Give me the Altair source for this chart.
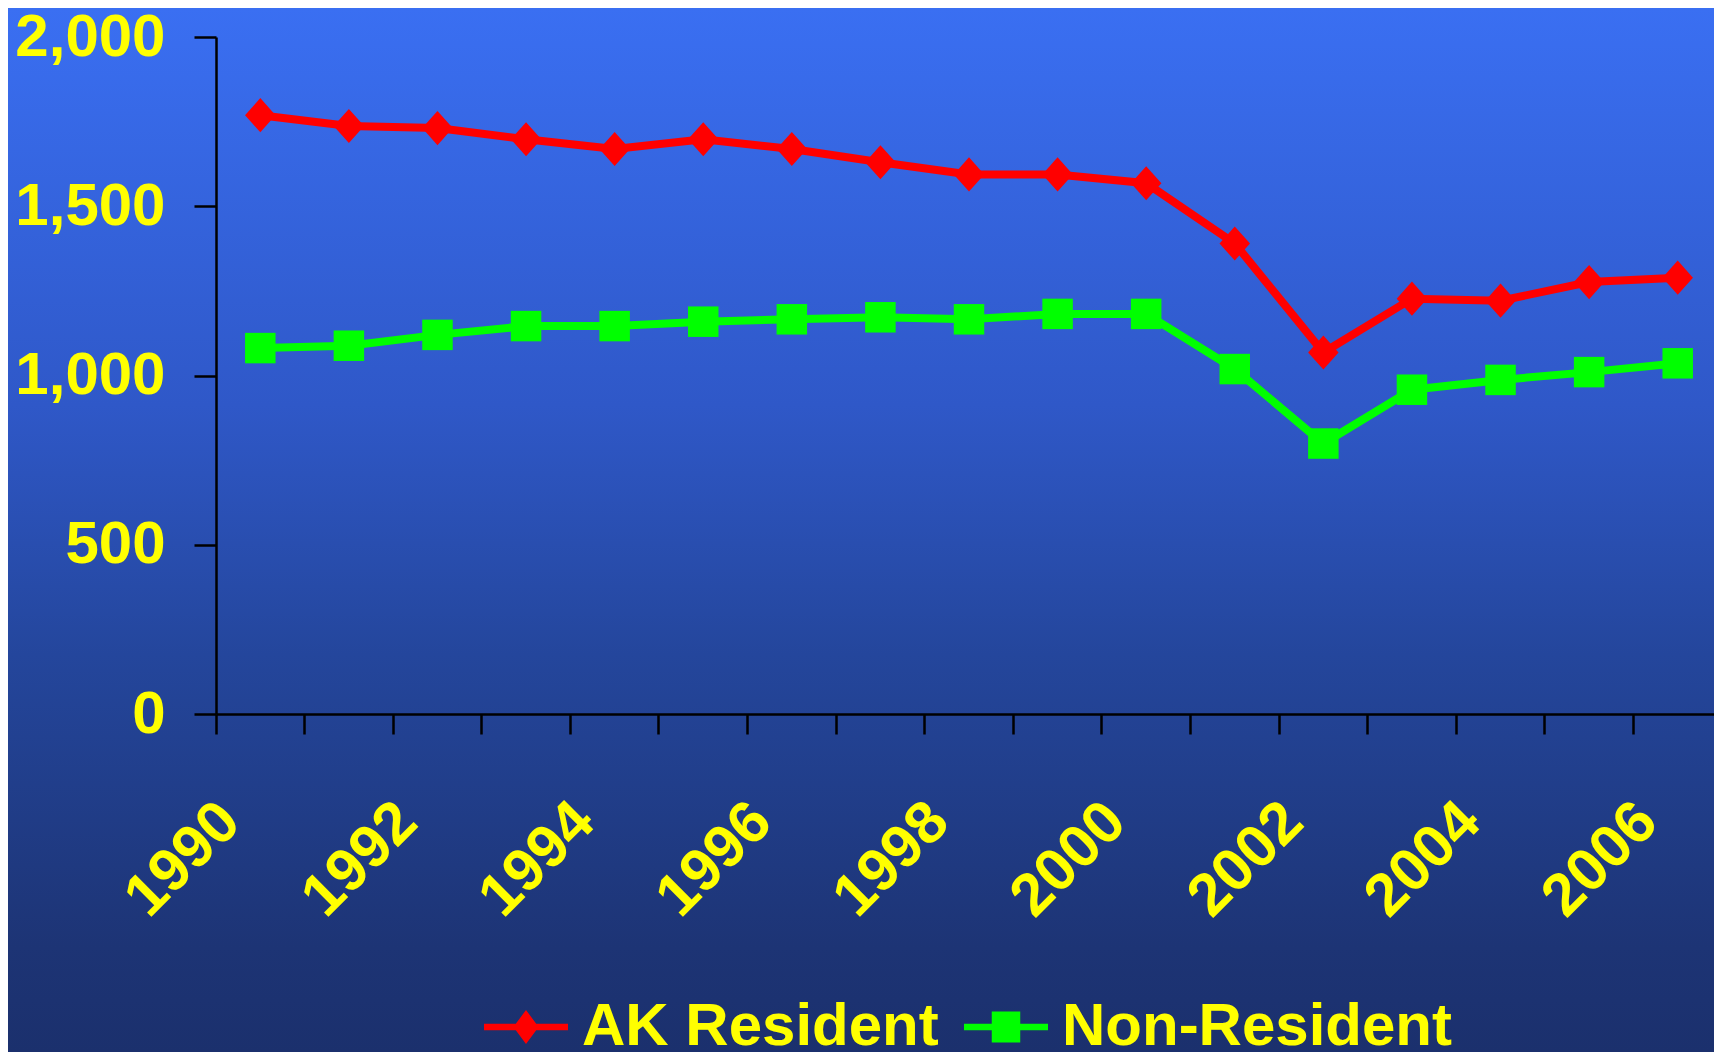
import altair as alt
import pandas as pd

years = [str(y) for y in range(1990, 2007)]
ak_resident = [1769, 1737, 1731, 1698, 1669, 1698, 1669, 1630, 1594, 1594, 1568, 1390, 1068, 1227, 1221, 1276, 1289]
non_resident = [1081, 1088, 1120, 1146, 1146, 1159, 1166, 1172, 1166, 1182, 1182, 1019, 799, 958, 987, 1010, 1036]
series = ["AK Resident", "Non-Resident"]
colors = ["#ff0000", "#00ff00"]
y_ticks = [0, 500, 1000, 1500, 2000]

rows = []
for i, yr in enumerate(years):
    rows.append({"year": yr, "series": series[0], "value": ak_resident[i]})
    rows.append({"year": yr, "series": series[1], "value": non_resident[i]})
df = pd.DataFrame(rows)

W = 1506
H = 677
PAD_L = 208
PAD_T = 29
PAD_B = 338
PAD_R = -8

FONT = "Liberation Sans"
YELLOW = "#ffff00"

DIAMOND = "M0,-1.12L1,0L0,1.12L-1,0Z"
LEG_DIAMOND = "M-2.8,-0.22L-0.68,-0.22L0,-1.13L0.68,-0.22L2.8,-0.22L2.8,0.22L0.68,0.22L0,1.13L-0.68,0.22L-2.8,0.22Z"
LEG_SQUARE = "M-2.8,-0.22L-0.95,-0.22L-0.95,-1.03L0.95,-1.03L0.95,-0.22L2.8,-0.22L2.8,0.22L0.95,0.22L0.95,1.03L-0.95,1.03L-0.95,0.22L-2.8,0.22Z"

x_enc = alt.X(
    "year:O",
    sort=years,
    scale=alt.Scale(type="band", paddingInner=0, paddingOuter=0),
    axis=alt.Axis(
        title=None,
        labelExpr="toNumber(datum.value) % 2 == 0 ? datum.value : ''",
        labelAngle=-45,
        labelAlign="right",
        labelBaseline="middle",
        labelFont=FONT,
        labelFontSize=60,
        labelFontWeight="bold",
        labelColor=YELLOW,
        labelOverlap=False,
        labelLimit=0,
        labelPadding=78,
        labelOffset=-30,
        bandPosition=0,
        tickSize=20,
        tickWidth=2.5,
        tickColor="black",
        domainColor="black",
        domainWidth=2.5,
        grid=False,
        zindex=1,
    ),
)
y_enc = alt.Y(
    "value:Q",
    scale=alt.Scale(domain=[0, 2000], nice=False),
    axis=alt.Axis(
        title=None,
        values=y_ticks,
        format=",.0f",
        labelFont=FONT,
        labelFontSize=60,
        labelFontWeight="bold",
        labelColor=YELLOW,
        labelLimit=0,
        labelPadding=29,
        tickSize=22,
        tickWidth=2.5,
        tickColor="black",
        domainColor="black",
        domainWidth=2.5,
        grid=False,
        zindex=1,
    ),
)

bg = alt.Chart(alt.Data(values=[{"k": 1}])).mark_rect(
    fill={
        "gradient": "linear",
        "x1": 0, "x2": 0, "y1": 0, "y2": 1,
        "stops": [
            {"offset": 0, "color": "#3a6ff2"},
            {"offset": 0.38, "color": "#2f58c8"},
            {"offset": 0.62, "color": "#24469c"},
            {"offset": 0.9, "color": "#1d3475"},
            {"offset": 1, "color": "#1b306d"},
        ],
    }
).encode(
    x=alt.value(-PAD_L), x2=alt.value(W + 20),
    y=alt.value(-PAD_T), y2=alt.value(H + PAD_B),
)

base = alt.Chart(df)

layers = [bg]
marker_shapes = [DIAMOND, "square"]
marker_sizes = [930, 930]
for s, c in zip(series, colors):
    sub = base.transform_filter(alt.datum.series == s)
    layers.append(sub.mark_line(strokeWidth=8, color=c).encode(x=x_enc, y=y_enc))
for s, c, shp, sz in zip(series, colors, marker_shapes, marker_sizes):
    sub = base.transform_filter(alt.datum.series == s)
    layers.append(
        sub.mark_point(shape=shp, size=sz, filled=True, opacity=1, strokeWidth=0, color=c).encode(x=x_enc, y=y_enc)
    )

legend = alt.Legend(
    orient="none",
    legendX=280,
    legendY=960,
    direction="horizontal",
    title=None,
    labelFont=FONT,
    labelFontSize=60,
    labelFontWeight="bold",
    labelColor=YELLOW,
    labelLimit=0,
    labelOffset=26,
    columnPadding=25,
    padding=0,
    symbolSize=900,
    symbolStrokeWidth=0,
    symbolOpacity=1,
)

leg_layer = base.mark_point(filled=True, opacity=0, size=900).encode(
    x=x_enc, y=y_enc,
    color=alt.Color("series:N", scale=alt.Scale(domain=series, range=colors), legend=legend),
    shape=alt.Shape("series:N", scale=alt.Scale(domain=series, range=[LEG_DIAMOND, LEG_SQUARE]), legend=legend),
)
layers.append(leg_layer)

chart = alt.layer(*layers).properties(
    width=W,
    height=H,
    padding={"left": PAD_L, "top": PAD_T, "bottom": PAD_B, "right": PAD_R},
    autosize=alt.AutoSizeParams(type="none"),
    background="#2a4db0",
).configure_view(stroke=None)

chart.save("out.html", embed_options={"renderer": "svg", "actions": False})
